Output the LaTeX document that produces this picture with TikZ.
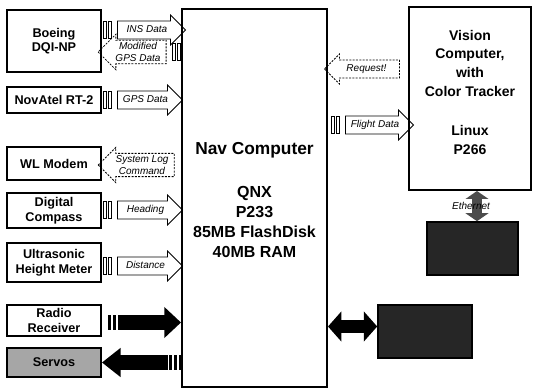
\documentclass[tikz,border=0pt]{standalone}
\usepackage{fontspec}
\setmainfont{Liberation Sans}
\usetikzlibrary{shapes.arrows,arrows.meta,calc}
\begin{document}
\begin{tikzpicture}[x=0.75pt,y=-0.75pt,
  dev/.style={draw,line width=1.4pt,align=center,inner sep=1pt,
    font=\bfseries\fontsize{9.5}{11}\selectfont,minimum width=70.5pt},
  bigbox/.style={draw,line width=1.5pt},
  darkbox/.style={draw,line width=1.2pt,fill=black!85},
  lbl/.style={font=\itshape\fontsize{7.5}{8.5}\selectfont},
  barrow/.style={single arrow,draw,line width=0.6pt,lbl,align=center,
    single arrow head extend=4.5pt,single arrow head indent=0pt,
    inner xsep=1pt,inner ysep=1.5pt},
  oneline/.style={text height=5.5pt,text depth=1.5pt,inner ysep=2.9pt},
  leftward/.style={shape border rotate=180},
  dotty/.style={dash pattern=on 1.5pt off 1pt},
  fatR/.style={line width=11pt,-{Triangle[width=22.5pt,length=12.5pt]}},
  fatL/.style={line width=11pt,{Triangle[width=21pt,length=14pt]}-},
  fatLR/.style={line width=9.5pt,{Triangle[width=22pt,length=10pt]}-{Triangle[width=22pt,length=10pt]}},
  ethar/.style={line width=7pt,draw=black!70,{Triangle[width=17pt,length=6pt]}-{Triangle[width=17pt,length=6pt]}},
  stripes/.pic={\draw[line width=0.5pt] (0,-8.5) rectangle (3,8.5) (5,-8.5) rectangle (8,8.5);}
]
\useasboundingbox (0,0) rectangle (535,391);

% left devices
\node[dev,minimum height=46.5pt] (boeing) at (54,41) {Boeing\\DQI-NP};
\node[dev,minimum height=19.5pt] (novatel) at (54,100) {NovAtel RT-2};
\node[dev,minimum height=24.75pt] (wl) at (54,163.5) {WL Modem};
\node[dev,minimum height=26.25pt] (compass) at (54,210.5) {Digital\\Compass};
\node[dev,minimum height=29.25pt] (ultra) at (54,262.5) {Ultrasonic\\Height Meter};
\node[dev,minimum height=23.25pt] (radio) at (54,320.5) {Radio\\Receiver};
\node[dev,minimum height=21.75pt,fill=black!35] (servos) at (54,362.5) {Servos};

% nav computer
\node[bigbox,minimum width=108.75pt,minimum height=283.5pt] (nav) at (254.5,198) {};
\node[font=\bfseries\fontsize{13}{15}\selectfont] (navt) at (254.5,150) {Nav Computer};
\node[font=\bfseries\fontsize{12}{15}\selectfont,align=center] (navs) at (254.5,222)
  {QNX\\P233\\85MB FlashDisk\\40MB RAM};

% vision computer
\node[bigbox,minimum width=91.5pt,minimum height=137.25pt] (vision) at (470,98.5) {};
\node[font=\bfseries\fontsize{10.5}{14}\selectfont,align=center] (vt) at (470,63)
  {Vision\\Computer,\\with\\Color Tracker};
\node[font=\bfseries\fontsize{10.5}{14}\selectfont,align=center] (vos) at (470,140)
  {Linux\\P266};

% dark boxes
\node[darkbox,minimum width=68.25pt,minimum height=39.75pt] (wlan) at (472.5,248.5) {};
\node[darkbox,minimum width=70.5pt,minimum height=39.75pt] (video) at (425,331.5) {};

% hollow block arrows, left side
\pic at (103,30) {stripes};
\node[barrow,oneline,minimum height=51pt] (insd) at (147,30) {INS Data};
\node[barrow,leftward,dotty,minimum height=51pt] (mgps) at (138,52) {Modified\\GPS Data};
\pic at (172,52) {stripes};
\pic at (103,100) {stripes};
\node[barrow,oneline,minimum height=48.75pt] (gpsd) at (145.5,100) {GPS Data};
\node[barrow,leftward,dotty,minimum height=57pt] (slog) at (142,165) {System Log\\Command};
\pic at (103,210) {stripes};
\node[barrow,oneline,minimum height=48.75pt] (head) at (145.5,210) {Heading};
\pic at (103,266) {stripes};
\node[barrow,oneline,minimum height=48.75pt] (dist) at (145.5,266) {Distance};

% right side
\node[barrow,oneline,leftward,dotty,minimum height=56.25pt] (req) at (366.5,69) {Request!};
\pic at (331,125) {stripes};
\node[barrow,oneline,minimum height=51pt] (flight) at (375,125) {Flight Data};

% filled arrows
\fill ($(radio.east)+(6,-5.5)$) rectangle +(3,15);
\fill ($(radio.east)+(11,-5.5)$) rectangle +(3,15);
\draw[fatR] ($(radio.east)+(16,2)$) -- ($(nav.west |- radio.east)+(0,2)$);

\draw[fatL] (servos.east) -- ($(servos.east)+(66,0)$);
\fill ($(servos.east)+(67,-7.5)$) rectangle +(3,15);
\fill ($(servos.east)+(72,-7.5)$) rectangle +(3,15);
\fill ($(servos.east)+(77,-7.5)$) rectangle +(2,15);

\draw[fatLR] ($(nav.east |- video.west)+(0,-5)$) -- ($(video.west)+(0,-5)$);

\coordinate (ex) at (477,0);
\draw[ethar] (vision.south -| ex) -- (wlan.north -| ex);
\node[lbl] (ethl) at (471,206) {Ethernet};
\end{tikzpicture}
\end{document}
